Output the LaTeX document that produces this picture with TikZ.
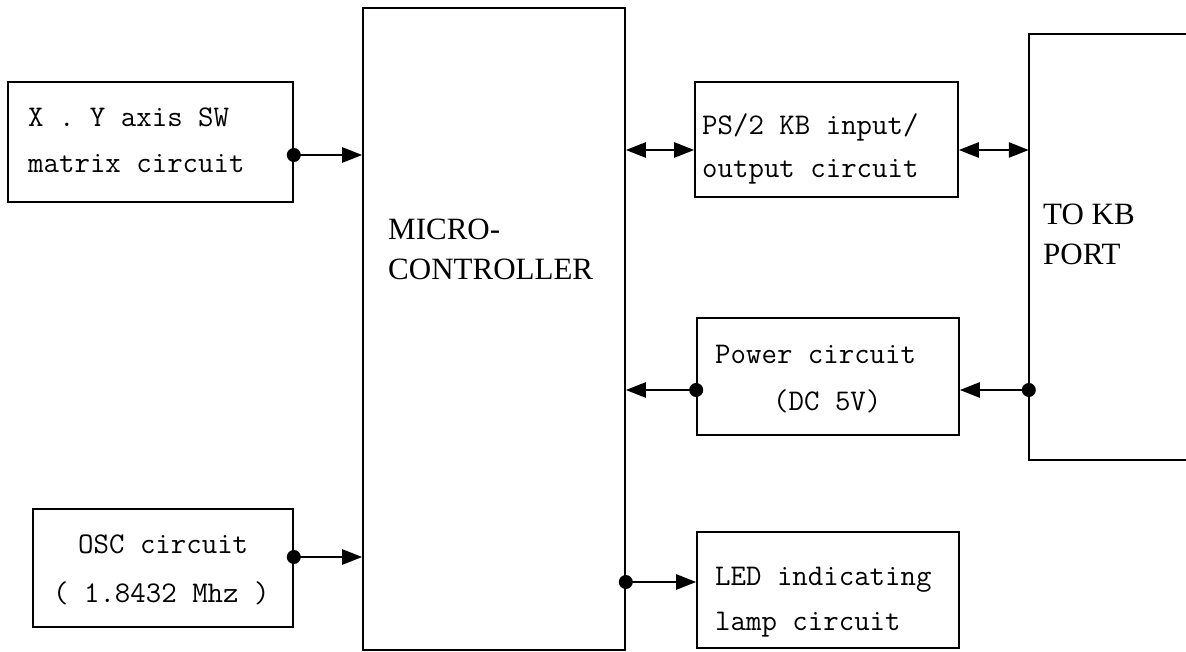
\documentclass[tikz,border=0pt]{standalone}
\usepackage{fontspec}
\setmainfont{Liberation Serif}
\usetikzlibrary{positioning,calc,arrows.meta}

\tikzset{
  blk/.style={draw, line width=1.6pt, inner sep=0pt, minimum width=#1},
  txt/.style={anchor=base west, inner sep=0pt, font=\ttfamily\fontsize{30}{30}\selectfont},
  bigtxt/.style={anchor=base west, inner sep=0pt, font=\fontsize{31}{31}\selectfont},
  conn/.style={line width=2.5pt, -{Triangle[length=20pt,width=15pt]}},
  bconn/.style={line width=2.5pt, {Triangle[length=20pt,width=15pt]}-{Triangle[length=20pt,width=15pt]}}
}

\begin{document}
\begin{tikzpicture}[x=1pt,y=-1pt]
		\useasboundingbox (0,0) rectangle (1186,652);
		\clip (0,0) rectangle (1186,652);
		% blocks
		\node[blk=285pt, minimum height=120pt] (xy) at (150.5,142) {};
		\node[blk=260pt, minimum height=118pt] (osc) at (163,568) {};
		\node[blk=262pt, minimum height=642pt] (mcu) at (494,329) {};
		\node[blk=263pt, minimum height=115pt] (ps2) at (826.5,139.5) {};
		\node[blk=262pt, minimum height=117pt] (pwr) at (828,376.5) {};
		\node[blk=262pt, minimum height=116pt] (led) at (828,590) {};
		\node[inner sep=0pt, minimum width=171pt, minimum height=426pt] (port) at (1114.5,247) {};
		\draw[line width=1.6pt] (port.north east) -- (port.north west) -- (port.south west) -- (port.south east);
		% texts
		\node[txt] (xy1) at (28,127) {X . Y axis SW};
		\node[txt] (xy2) at (28,173) {matrix circuit};
		\node[txt] (osc1) at (78,553) {OSC circuit};
		\node[txt] (osc2) at (53,602) {( 1.8432 Mhz )};
		\node[bigtxt] (mcu1) at (388,240) {MICRO-};
		\node[bigtxt] (mcu2) at (388,280) {CONTROLLER};
		\node[txt] (ps21) at (702,135) {PS/2 KB input/};
		\node[txt] (ps22) at (702,178) {output circuit};
		\node[txt] (pwr1) at (715,363) {Power circuit};
		\node[txt] (pwr2) at (773,410) {(DC 5V)};
		\node[txt] (led1) at (715,585) {LED indicating};
		\node[txt] (led2) at (715,630) {lamp circuit};
		\node[bigtxt] (port1) at (1043,225) {TO KB};
		\node[bigtxt] (port2) at (1043,265) {PORT};
		% connectors
		\coordinate (xyout) at ([yshift=-13pt]xy.east);
		\coordinate (oscout) at ([yshift=11pt]osc.east);
		\coordinate (ps2in) at ([yshift=-10.5pt]ps2.west);
		\coordinate (ps2out) at ([yshift=-10.5pt]ps2.east);
		\coordinate (pwrout) at ([yshift=-13.5pt]pwr.west);
		\coordinate (pwrin) at ([yshift=-13.5pt]pwr.east);
		\coordinate (ledin) at ([yshift=8pt]led.west);
		\draw[conn] (xyout) -- (xyout -| mcu.west);
		\draw[conn] (oscout) -- (oscout -| mcu.west);
		\draw[bconn] (ps2in -| mcu.east) -- (ps2in);
		\draw[bconn] (ps2out) -- (ps2out -| port.west);
		\draw[conn] (pwrout) -- (pwrout -| mcu.east);
		\draw[conn] (pwrin -| port.west) -- (pwrin);
		\draw[conn] (ledin -| mcu.east) -- (ledin);
		\fill (xyout) circle (7pt);
		\fill (oscout) circle (7pt);
		\fill (pwrout) circle (7pt);
		\fill (pwrin -| port.west) circle (7pt);
		\fill (ledin -| mcu.east) circle (7pt);
	\end{tikzpicture}
\end{document}
